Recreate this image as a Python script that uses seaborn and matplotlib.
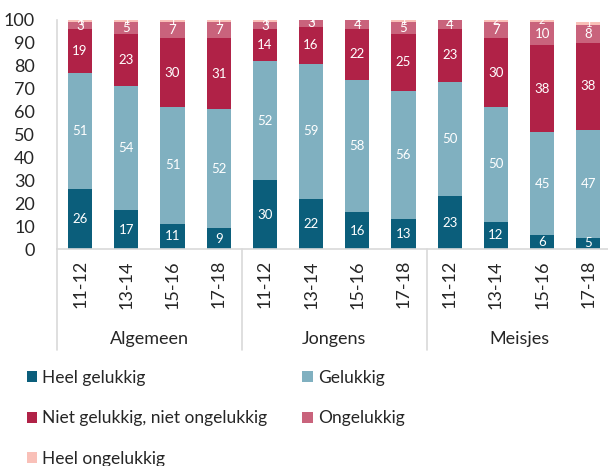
import matplotlib
matplotlib.use("Agg")
import matplotlib.pyplot as plt
import seaborn as sns
import pandas as pd
import numpy as np
from matplotlib.patches import Patch
from matplotlib.lines import Line2D

groups = ["Algemeen", "Jongens", "Meisjes"]
ages = ["11-12", "13-14", "15-16", "17-18"]
series = ["Heel gelukkig", "Gelukkig", "Niet gelukkig, niet ongelukkig", "Ongelukkig", "Heel ongelukkig"]
heel_gelukkig = [26, 17, 11, 9, 30, 22, 16, 13, 23, 12, 6, 5]
gelukkig = [51, 54, 51, 52, 52, 59, 58, 56, 50, 50, 45, 47]
niet = [19, 23, 30, 31, 14, 16, 22, 25, 23, 30, 38, 38]
ongelukkig = [3, 5, 7, 7, 3, 3, 4, 5, 4, 7, 10, 8]
heel_ongelukkig = [1, 1, 1, 1, 1, 1, 1, 1, 1, 2, 2, 1]
colors = ["#0b5e7b", "#80b0c0", "#b02247", "#c9637c", "#f9c0b8"]

sns.set_theme(style="white")
plt.rcParams["font.family"] = ["Lato", "DejaVu Sans"]

ids = [f"{g}_{a}" for g in groups for a in ages]
values = [heel_gelukkig, gelukkig, niet, ongelukkig, heel_ongelukkig]

fig = plt.figure(figsize=(6.08, 4.66), dpi=100)
ax = fig.add_axes([57/608, 1-249/466, 1-57/608, (249-20)/466])

bottom = np.zeros(len(ids))
for k, (name, vals, col) in enumerate(zip(series, values, colors)):
    df = pd.DataFrame({"id": ids, "v": vals})
    n_before = len(ax.patches)
    sns.barplot(data=df, x="id", y="v", color=col, width=0.52, bottom=bottom,
                ax=ax, saturation=1, linewidth=0, order=ids)
    new_patches = ax.patches[n_before:]
    for i, v in enumerate(vals):
        t = ax.text(i, bottom[i] + v/2, str(v), ha="center", va="center",
                    color="white", fontsize=9.5 if v > 2 else 8)
        if v <= 2 and i < len(new_patches):
            t.set_clip_path(new_patches[i])
    bottom = bottom + np.array(vals)

ax.set_ylim(0, 100)
ax.set_xlim(-0.5, -0.5 + (608-57)/46.2)
ax.set_yticks(range(0, 101, 10))
ax.tick_params(axis="y", length=0, labelsize=13, pad=16)
ax.set_xticks(range(len(ids)))
ax.set_xticklabels(ages * 3, rotation=90, fontsize=13)
ax.tick_params(axis="x", length=0, pad=8)
ax.set_xlabel("")
ax.set_ylabel("")
for s in ["top", "right"]:
    ax.spines[s].set_visible(False)
for s in ["left", "bottom"]:
    ax.spines[s].set_color("#d9d9d9")
    ax.spines[s].set_linewidth(1.2)

ext = -44
for xp in [-0.5, 3.5, 7.5]:
    ax.add_line(Line2D([xp, xp], [0, ext], color="#d9d9d9", lw=1.2, clip_on=False))
for gi, g in enumerate(groups):
    ax.text(gi*4 + 1.5, -39.3, g, ha="center", va="center", fontsize=13)

handles = [Patch(facecolor=c, edgecolor="none") for c in colors]
order = [0, 2, 4, 1, 3]
leg = fig.legend([handles[i] for i in order], [series[i] for i in order],
                 ncol=2, loc="upper left", bbox_to_anchor=(11/608, 1-354/466),
                 frameon=False, fontsize=12.5, handlelength=0.6, handleheight=0.6,
                 handletextpad=0.3, labelspacing=1.42, columnspacing=2.0)

fig.savefig("out.png", dpi=100)
